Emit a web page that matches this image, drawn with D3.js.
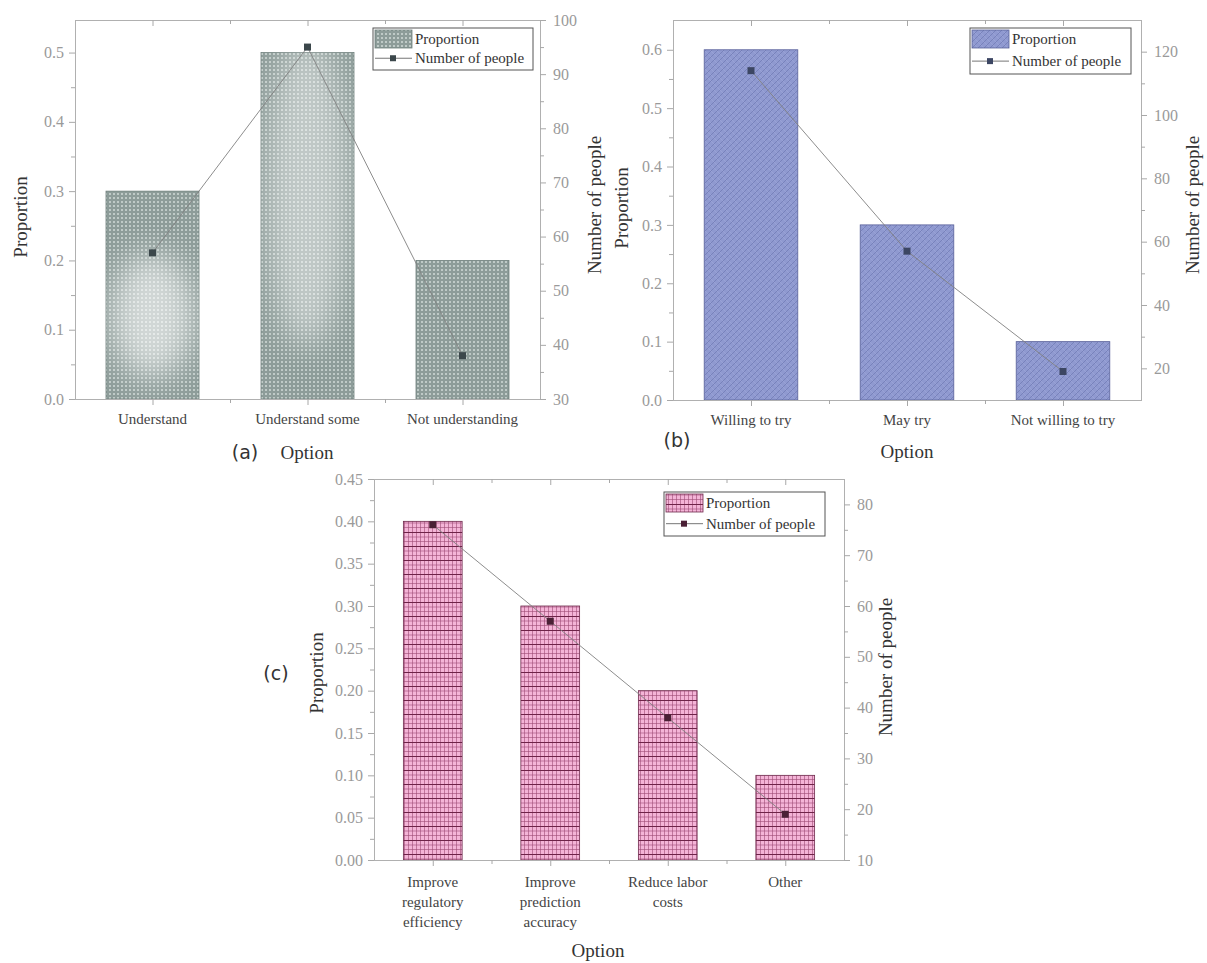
<!DOCTYPE html>
<html>
<head>
<meta charset="utf-8">
<script src="https://cdn.jsdelivr.net/npm/d3@7"></script>
<style>
	body { margin: 0; background: #fff; }
	svg { font-family: "Liberation Serif", "Times New Roman", serif; }
	.axis { font-family: "Liberation Serif", "Times New Roman", serif; }
	.axis path { display: none; }
	.axis line { stroke: #a8a8a8; }
	.axis text { fill: #9a9a9a; font-size: 16px; font-family: "Liberation Serif", serif; }
	.frame { fill: none; stroke: #b0b0b0; shape-rendering: crispEdges; }
	.cat { fill: #444; font-size: 15px; }
	.title { fill: #333; font-size: 19px; }
	.legend text { fill: #333; font-size: 15px; }
</style>
</head>
<body>
<script>
// ---- data ----
var legendLabels = ["Proportion", "Number of people"];

var catsA = ["Understand", "Understand some", "Not understanding"];
var propA = [0.3, 0.5, 0.2];
var peopleA = [57, 95, 38];
var propTicksA = [0, 0.1, 0.2, 0.3, 0.4, 0.5];
var peopleTicksA = [30, 40, 50, 60, 70, 80, 90, 100];

var catsB = ["Willing to try", "May try", "Not willing to try"];
var propB = [0.6, 0.3, 0.1];
var peopleB = [114, 57, 19];
var propTicksB = [0, 0.1, 0.2, 0.3, 0.4, 0.5, 0.6];
var peopleTicksB = [20, 40, 60, 80, 100, 120];

var catsC = [["Improve", "regulatory", "efficiency"], ["Improve", "prediction", "accuracy"], ["Reduce labor", "costs"], ["Other"]];
var propC = [0.4, 0.3, 0.2, 0.1];
var peopleC = [76, 57, 38, 19];
var propTicksC = [0, 0.05, 0.1, 0.15, 0.2, 0.25, 0.3, 0.35, 0.4, 0.45];
var peopleTicksC = [10, 20, 30, 40, 50, 60, 70, 80];

var svg = d3.select("body").append("svg")
	.attr("width", 1207)
	.attr("height", 963);
var defs = svg.append("defs");

// patterns for the bar fills
var pa = defs.append("pattern").attr("id", "patA")
	.attr("patternUnits", "userSpaceOnUse").attr("width", 4).attr("height", 4);
pa.append("rect").attr("width", 4).attr("height", 4).attr("fill", "#8d9c99");
pa.append("rect").attr("x", 1).attr("y", 1).attr("width", 2).attr("height", 2).attr("fill", "#bfcac7");

var pb = defs.append("pattern").attr("id", "patB")
	.attr("patternUnits", "userSpaceOnUse").attr("width", 6).attr("height", 6);
pb.append("rect").attr("width", 6).attr("height", 6).attr("fill", "#8f99d0");
pb.append("path").attr("d", "M0,0L6,6M-1,5L1,7M5,-1L7,1").attr("stroke", "#a3abdc").attr("stroke-width", 0.5);
pb.append("path").attr("d", "M0,6L6,0M-1,1L1,-1M5,7L7,5").attr("stroke", "#6f78b2").attr("stroke-width", 0.7);

var pc = defs.append("pattern").attr("id", "patC")
	.attr("patternUnits", "userSpaceOnUse").attr("width", 4).attr("height", 14);
pc.append("rect").attr("width", 4).attr("height", 14).attr("fill", "#f4b4d7");
pc.append("path").attr("d", "M0.5,0V14M0,5H4M0,9.5H4").attr("stroke", "#9c4a74").attr("stroke-width", 0.6);
pc.append("path").attr("d", "M0,0.5H4").attr("stroke", "#6e2348").attr("stroke-width", 1);

defs.append("filter").attr("id", "blur").attr("x", "-50%").attr("y", "-50%").attr("width", "200%").attr("height", "200%")
	.append("feGaussianBlur").attr("stdDeviation", 16);

function panel(p) {
	var n = p.cats.length;
	var g = svg.append("g");
	var idx = d3.range(1, n + 1);

	var x = d3.scaleLinear().domain([0.5, n + 0.5]).range([p.left, p.right]);
	var y = d3.scaleLinear().domain(p.propDomain).range([p.bottom, p.top]);
	var y2 = d3.scaleLinear().domain(p.peopleDomain).range([p.bottom, p.top]);
	var half = (x(1 + p.barWidth / 2) - x(1 - p.barWidth / 2)) / 2;

	// bars
	g.selectAll("rect.bar")
		.data(p.prop)
	.enter().append("rect")
		.attr("class", "bar")
		.attr("x", function (d, i) { return x(i + 1) - half; })
		.attr("y", function (d) { return y(d); })
		.attr("width", half * 2)
		.attr("height", function (d) { return y(0) - y(d); })
		.attr("fill", "url(#" + p.pattern + ")")
		.attr("stroke", p.barStroke)
		.attr("stroke-width", 0.8);

	// soft light spots (scan look of panel a)
	if (p.glow) {
		p.prop.forEach(function (d, i) {
			var gl = p.glow[i];
			if (!gl) return;
			var id = p.pattern + "clip" + i;
			defs.append("clipPath").attr("id", id).append("rect")
				.attr("x", x(i + 1) - half).attr("y", y(d))
				.attr("width", half * 2).attr("height", y(0) - y(d));
			g.append("g").attr("clip-path", "url(#" + id + ")")
				.append("ellipse")
				.attr("cx", x(i + 1))
				.attr("cy", y(d * gl.fy))
				.attr("rx", half * 0.9)
				.attr("ry", (y(0) - y(d)) * gl.ry)
				.attr("fill", "#fff")
				.attr("opacity", gl.o)
				.attr("filter", "url(#blur)");
		});
	}

	// line + markers
	var line = d3.line()
		.x(function (d, i) { return x(i + 1); })
		.y(function (d) { return y2(d); });
	g.append("path")
		.datum(p.people)
		.attr("d", line)
		.attr("fill", "none")
		.attr("stroke", "#808080")
		.attr("stroke-width", 0.9);
	g.selectAll("rect.pt")
		.data(p.people)
	.enter().append("rect")
		.attr("class", "pt")
		.attr("x", function (d, i) { return x(i + 1) - 3.5; })
		.attr("y", function (d) { return y2(d) - 3.5; })
		.attr("width", 7)
		.attr("height", 7)
		.attr("fill", p.marker);

	g.append("rect")
		.attr("class", "frame")
		.attr("x", p.left)
		.attr("y", p.top)
		.attr("width", p.right - p.left)
		.attr("height", p.bottom - p.top);

	function mids(t) {
		return d3.pairs(t).map(function (q) { return (q[0] + q[1]) / 2; });
	}

	// left axis
	g.append("g").attr("class", "axis")
		.attr("transform", "translate(" + p.left + ",0)")
		.call(d3.axisLeft(y).tickValues(p.propTicks).tickSize(6).tickPadding(5).tickFormat(d3.format(p.propFmt)));
	g.append("g").attr("class", "axis")
		.attr("transform", "translate(" + p.left + ",0)")
		.call(d3.axisLeft(y).tickValues(mids(p.propTicks)).tickSize(4).tickFormat(""));

	// right axis
	g.append("g").attr("class", "axis")
		.attr("transform", "translate(" + p.right + ",0)")
		.call(d3.axisRight(y2).tickValues(p.peopleTicks).tickSize(6).tickPadding(7).tickFormat(d3.format("d")));
	g.append("g").attr("class", "axis")
		.attr("transform", "translate(" + p.right + ",0)")
		.call(d3.axisRight(y2).tickValues(mids(p.peopleTicks)).tickSize(4).tickFormat(""));

	// bottom + top axes
	var minorX = idx.slice(1).map(function (i) { return i - 0.5; });
	g.append("g").attr("class", "axis")
		.attr("transform", "translate(0," + p.bottom + ")")
		.call(d3.axisBottom(x).tickValues(idx).tickSize(6).tickFormat(""));
	g.append("g").attr("class", "axis")
		.attr("transform", "translate(0," + p.bottom + ")")
		.call(d3.axisBottom(x).tickValues(minorX).tickSize(4).tickFormat(""));
	g.append("g").attr("class", "axis")
		.attr("transform", "translate(0," + p.top + ")")
		.call(d3.axisTop(x).tickValues(idx).tickSize(-6).tickFormat(""));
	g.append("g").attr("class", "axis")
		.attr("transform", "translate(0," + p.top + ")")
		.call(d3.axisTop(x).tickValues(minorX).tickSize(-4).tickFormat(""));

	// category labels
	p.cats.forEach(function (c, i) {
		var lines = Array.isArray(c) ? c : [c];
		var t = g.append("text")
			.attr("class", "cat")
			.attr("text-anchor", "middle")
			.attr("x", x(i + 1))
			.attr("y", p.bottom + p.catOffset);
		lines.forEach(function (s, k) {
			t.append("tspan").attr("x", x(i + 1)).attr("dy", k ? 20 : 0).text(s);
		});
	});

	// titles
	g.append("text").attr("class", "title")
		.attr("transform", "translate(" + p.propTitle[0] + "," + p.propTitle[1] + ") rotate(-90)")
		.attr("text-anchor", "middle").attr("dy", "0.35em")
		.text(legendLabels[0]);
	g.append("text").attr("class", "title")
		.attr("transform", "translate(" + p.peopleTitle[0] + "," + p.peopleTitle[1] + ") rotate(-90)")
		.attr("text-anchor", "middle").attr("dy", "0.35em")
		.text(legendLabels[1]);
	g.append("text").attr("class", "title")
		.attr("x", p.optionTitle[0]).attr("y", p.optionTitle[1])
		.attr("text-anchor", "middle").attr("dy", "0.35em")
		.text("Option");
	g.append("text").attr("class", "title")
		.style("font-family", "'DejaVu Sans', sans-serif").style("font-size", "19px")
		.attr("x", p.tag[0]).attr("y", p.tag[1])
		.attr("text-anchor", "middle").attr("dy", "0.35em")
		.text(p.tagText);

	// legend
	var L = p.legend;
	var lg = g.append("g").attr("class", "legend");
	lg.append("rect")
		.attr("x", L.x).attr("y", L.y).attr("width", L.w).attr("height", L.h)
		.attr("fill", "#fff").attr("stroke", "#555").attr("stroke-width", 1);
	lg.append("rect")
		.attr("x", L.x + 2).attr("y", L.y + 2).attr("width", 37).attr("height", 18)
		.attr("fill", "url(#" + p.pattern + ")").attr("stroke", p.barStroke).attr("stroke-width", 0.8);
	lg.append("text").attr("x", L.x + 42).attr("y", L.y + 16).text(legendLabels[0]);
	var ly = L.y + L.h * 0.72;
	lg.append("line")
		.attr("x1", L.x + 2).attr("x2", L.x + 39).attr("y1", ly).attr("y2", ly)
		.attr("stroke", "#666").attr("stroke-width", 0.9);
	lg.append("rect")
		.attr("x", L.x + 17).attr("y", ly - 3).attr("width", 6).attr("height", 6)
		.attr("fill", p.marker);
	lg.append("text").attr("x", L.x + 42).attr("y", ly + 5).text(legendLabels[1]);
}

panel({
	cats: catsA, prop: propA, people: peopleA,
	propTicks: propTicksA, peopleTicks: peopleTicksA, propFmt: ".1f",
	propDomain: [0, 0.547], peopleDomain: [30, 100],
	left: 75, right: 540, top: 20, bottom: 399,
	barWidth: 0.6, pattern: "patA", barStroke: "#6f7f7c", marker: "#3b474b",
	glow: [{ fy: 0.4, ry: 0.3, o: 0.6 }, { fy: 0.6, ry: 0.45, o: 0.45 }, null],
	catOffset: 25,
	propTitle: [20, 217], peopleTitle: [594, 205], optionTitle: [307, 452],
	tag: [245, 452], tagText: "(a)",
	legend: { x: 373, y: 28, w: 160, h: 42 }
});

panel({
	cats: catsB, prop: propB, people: peopleB,
	propTicks: propTicksB, peopleTicks: peopleTicksB, propFmt: ".1f",
	propDomain: [0, 0.651], peopleDomain: [10, 130],
	left: 673, right: 1141, top: 20, bottom: 400,
	barWidth: 0.6, pattern: "patB", barStroke: "#59619a", marker: "#3c4663",
	catOffset: 25,
	propTitle: [621, 208], peopleTitle: [1192, 205], optionTitle: [907, 451],
	tag: [677, 440], tagText: "(b)",
	legend: { x: 970, y: 28, w: 161, h: 46 }
});

panel({
	cats: catsC, prop: propC, people: peopleC,
	propTicks: propTicksC, peopleTicks: peopleTicksC, propFmt: ".2f",
	propDomain: [0, 0.45], peopleDomain: [10, 85],
	left: 374, right: 844, top: 479, bottom: 860,
	barWidth: 0.5, pattern: "patC", barStroke: "#6e2a4c", marker: "#4a2035",
	catOffset: 27,
	propTitle: [316, 673], peopleTitle: [885, 667], optionTitle: [598, 950],
	tag: [276, 673], tagText: "(c)",
	legend: { x: 664, y: 492, w: 161, h: 44 }
});
</script>
</body>
</html>
